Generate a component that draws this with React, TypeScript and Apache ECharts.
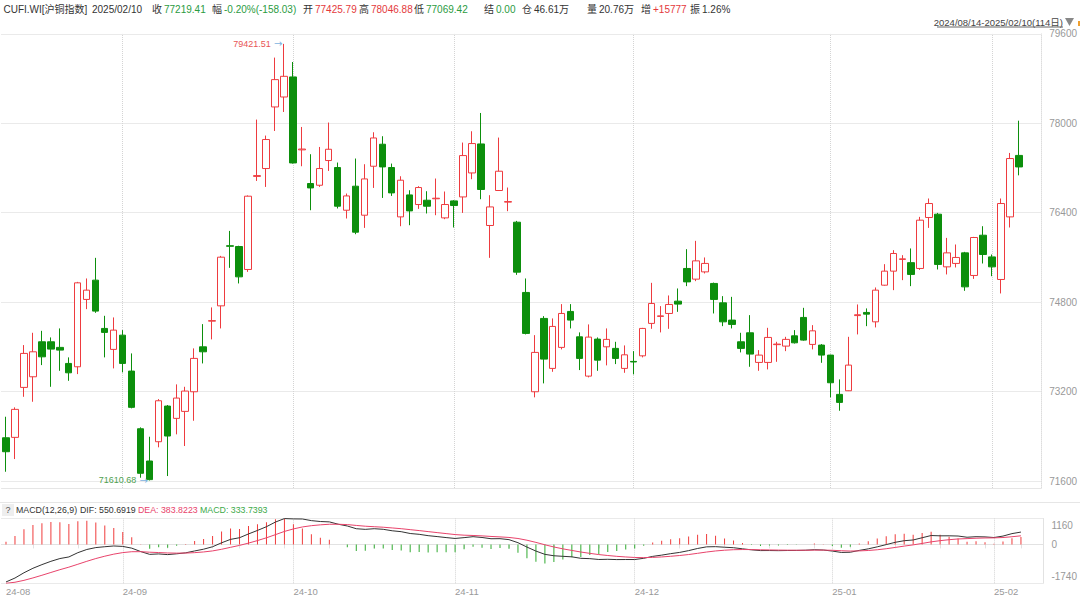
import React, { useEffect, useRef } from "react";
import * as echarts from "echarts";

const months = ["2024-08", "2024-09", "2024-10", "2024-11", "2024-12", "2025-01", "2025-02"];
const monthDays = [
  [14, 15, 16, 19, 20, 21, 22, 23, 26, 27, 28, 29, 30],
  [2, 3, 4, 5, 6, 9, 10, 11, 12, 13, 18, 19, 20, 23, 24, 25, 26, 27, 30],
  [8, 9, 10, 11, 14, 15, 16, 17, 18, 21, 22, 23, 24, 25, 28, 29, 30, 31],
  [1, 4, 5, 6, 7, 8, 11, 12, 13, 14, 15, 18, 19, 20, 21, 22, 25, 26, 27, 28],
  [2, 3, 4, 5, 6, 9, 10, 11, 12, 13, 16, 17, 18, 19, 20, 23, 24, 25, 26, 27, 30, 31],
  [2, 3, 6, 7, 8, 9, 10, 13, 14, 15, 16, 17, 20, 21, 22, 23, 24, 27],
  [5, 6, 7, 10],
];
const dates: string[] = months.flatMap((m, k) => monthDays[k].map((d) => `${m}-${String(d).padStart(2, "0")}`));

const opens = [
  72374, 72381, 73275, 73465, 74091, 74091, 73991, 73704, 73644, 74849,
  75194, 74330, 73955, 74210, 73567, 72535, 71958, 72303, 72941, 72721,
  72846, 73197, 74001, 74460, 74734, 75810, 75796, 75385, 77050, 77191,
  78293, 78471, 78830, 77525, 76923, 76892, 77334, 77209, 76445, 76875,
  76356, 77232, 77626, 77209, 76326, 76719, 76547, 76624, 76650, 76308,
  76612, 76683, 77112, 77631, 76172, 76798, 76590, 76231, 74974, 73197,
  74509, 73615, 73991, 74634, 74180, 73477, 74139, 74001, 73973, 73615,
  73740, 73840, 74420, 74545, 74598, 74818, 75403, 75212, 75342, 75135,
  74788, 74479, 74091, 74252, 73722, 73722, 74040, 74014, 74198, 74527,
  74044, 74032, 73853, 73150, 73215, 74560, 74616, 74448, 75104, 75355,
  75565, 75507, 75403, 76315, 76374, 75432, 75493, 75682, 75278, 75998,
  75610, 75206, 76326, 77425.79,
];
const closes = [
  72124, 72882, 73883, 73912, 73822, 73960, 73942, 73536, 75146, 75015,
  74640, 74259, 74300, 73704, 72918, 71738, 71625, 73036, 72405, 73084,
  73209, 73794, 73912, 74470, 75605, 75800, 75253, 76696, 77065, 77710,
  78782, 78841, 77291, 77540, 76844, 77191, 77536, 76517, 76701, 76052,
  77005, 77738, 77220, 76755, 76982, 76433, 76851, 76517, 76660, 76547,
  76529, 77423, 77638, 76816, 76504, 77143, 76600, 75337, 74241, 73901,
  73781, 74366, 74598, 74479, 73794, 74175, 73763, 74134, 73794, 73858,
  73730, 74330, 74777, 74555, 74759, 74765, 75163, 75539, 75493, 74849,
  74448, 74402, 73973, 73871, 73853, 74169, 74050, 74134, 74073, 74121,
  74287, 73853, 73358, 73007, 73674, 74575, 74586, 75015, 75355, 75671,
  75575, 75296, 76267, 76565, 75475, 75682, 75600, 75074, 75957, 75653,
  75432, 76565, 77370, 77219.41,
];
const lows = [
  71766, 71993, 73107, 73018, 73674, 73286, 73572, 73393, 73513, 74675,
  74609, 73812, 73615, 73544, 72900, 71659, 71610.68, 72203, 71689, 72435,
  72226, 72678, 73704, 74134, 74330, 75414, 75135, 75342, 76969, 76862,
  77863, 78203, 77280, 77232, 76445, 76862, 77148, 76476, 76297, 76016,
  76129, 76844, 76665, 76701, 76159, 76177, 76469, 76387, 76356, 76285,
  76136, 76397, 77000, 76642, 75593, 76790, 76428, 75289, 74223, 73097,
  73347, 73554, 73955, 74330, 73585, 73454, 73572, 73669, 73692, 73536,
  73508, 73812, 74323, 74259, 74323, 74627, 75087, 75176, 75314, 74598,
  74371, 74330, 73901, 73644, 73572, 73597, 73733, 73924, 74060, 74110,
  73955, 73715, 73097, 72857, 73210, 74223, 74371, 74348, 75095, 75015,
  75194, 75087, 75378, 76129, 75385, 75296, 75421, 75003, 75217, 75492,
  75265, 74956, 76136, 77069.42,
];
const highs = [
  72750, 72918, 74032, 74252, 74287, 74169, 74330, 73812, 75163, 75224,
  75593, 74556, 74527, 74300, 73883, 72560, 72392, 73066, 72960, 73329,
  73286, 73973, 74407, 74706, 75628, 76075, 75810, 76710, 78067, 77781,
  79176, 79421.51, 79097, 77935, 77447, 77577, 78014, 77298, 76744, 77370,
  77268, 77840, 77769, 77280, 77053, 76803, 76875, 76785, 77012, 76780,
  76625, 77656, 77858, 78185, 76714, 77745, 76851, 76254, 75224, 74210,
  74550, 74509, 74765, 74765, 74259, 74402, 74169, 74330, 74091, 74026,
  73924, 74340, 75146, 74729, 74920, 75045, 75748, 75897, 75600, 75150,
  74908, 74895, 74252, 74568, 73942, 74341, 74091, 74180, 74300, 74699,
  74389, 74050, 73860, 73418, 74180, 74759, 74688, 75063, 75480, 75730,
  75641, 75761, 76326, 76655, 76397, 75950, 75832, 75700, 75968, 76159,
  75653, 76655, 77470, 78046.88,
];

const priceTicks = [71600, 73200, 74800, 76400, 78000, 79600];
const macdTicks = [-1740, 0, 1160];
// EMA12, EMA26 and DEA on the first day (the indicator's history before the window)
const macdSeed = [72230, 73910, -1740];

const FONT = "'Liberation Sans', 'Noto Sans CJK SC', sans-serif";
const RED = "#ee3b3f";
const GREEN = "#0c8f0c";
const HRED = "#e4393c";
const HGREEN = "#2b9b3f";

export default function App() {
  const ref = useRef<HTMLDivElement>(null);
  useEffect(() => {
    if (!ref.current) return;
    const chart = echarts.init(ref.current, null, { renderer: "svg" });

    const dif: number[] = [];
    const dea: number[] = [];
    const hist: number[] = [];
    let e12 = macdSeed[0];
    let e26 = macdSeed[1];
    let d = macdSeed[2];
    closes.forEach((c, i) => {
      if (i > 0) {
        e12 += ((c - e12) * 2) / 13;
        e26 += ((c - e26) * 2) / 27;
      }
      const df = e12 - e26;
      if (i > 0) d += (df - d) * 0.2;
      dif.push(df);
      dea.push(d);
      hist.push(2 * (df - d));
    });

    const cats = [...dates, "pad-1", "pad-2"];
    const monthStarts = new Set<number>();
    const weekStarts = new Set<number>();
    const wk = (s: string) => Math.floor((Date.parse(s) / 86400000 + 3) / 7);
    dates.forEach((s, i) => {
      if (i === 0 || s.slice(0, 7) !== dates[i - 1].slice(0, 7)) monthStarts.add(i);
      if (i > 0 && wk(s) !== wk(dates[i - 1])) weekStarts.add(i);
    });
    const monthLines = [...monthStarts].filter((i) => i > 0).map((i) => ({ xAxis: dates[i] }));
    const monthMarkLine = {
      silent: true,
      z: 0,
      symbol: ["none", "none"],
      label: { show: false },
      lineStyle: { color: "#d4d4d4", type: "dotted", width: 1 },
      data: monthLines,
    };

    const hiIdx = highs.indexOf(Math.max(...highs));
    const loIdx = lows.indexOf(Math.min(...lows));

    const mainGrid = { left: 1.5, top: 33.9, width: 1041.9, height: 454.1 };
    const macdGrid = { left: 1.5, top: 518.5, width: 1041.9, height: 64.8 };

    const txt = (x: number, y: number, text: string, fill: string, size = 10, extra: any = {}) => ({
      type: "text",
      x,
      y,
      silent: true,
      style: { text, fill, fontSize: size, fontFamily: FONT, verticalAlign: "middle", ...extra },
    });

    const header = [
      txt(3.5, 9, "CUFI.WI[沪铜指数]", "#333"),
      txt(92, 9, "2025/02/10", "#333"),
      txt(152, 9, "收", "#333"),
      txt(164, 9, "77219.41", HGREEN),
      txt(212, 9, "幅", "#333"),
      txt(224, 9, "-0.20%(-158.03)", HGREEN),
      txt(303, 9, "开", "#333"),
      txt(315, 9, "77425.79", HRED),
      txt(359, 9, "高", "#333"),
      txt(371, 9, "78046.88", HRED),
      txt(414, 9, "低", "#333"),
      txt(426, 9, "77069.42", HGREEN),
      txt(484, 9, "结", "#333"),
      txt(496, 9, "0.00", HGREEN),
      txt(522, 9, "仓", "#333"),
      txt(534, 9, "46.61万", "#333"),
      txt(587, 9, "量", "#333"),
      txt(599, 9, "20.76万", "#333"),
      txt(641, 9, "增", "#333"),
      txt(653, 9, "+15777", HRED),
      txt(690, 9, "振", "#333"),
      txt(702, 9, "1.26%", "#333"),
      txt(1063, 22, "2024/08/14-2025/02/10(114日)", "#444", 9.5, { align: "right" }),
      {
        type: "line",
        silent: true,
        shape: { x1: 937, y1: 27, x2: 1063, y2: 27 },
        style: { stroke: "#666", lineWidth: 1 },
      },
      {
        type: "polygon",
        silent: true,
        shape: { points: [[1065, 18], [1074, 18], [1069.5, 26]] },
        style: { fill: "#888" },
      },
      { type: "rect", silent: true, shape: { x: 1078, y: 21, width: 2, height: 5 }, style: { fill: "#f0a030" } },
      {
        type: "line",
        silent: true,
        shape: { x1: 0, y1: 502.5, x2: 1080, y2: 502.5 },
        style: { stroke: "#e6e6e6", lineWidth: 1 },
      },
      { type: "rect", silent: true, shape: { x: 2, y: 504, width: 12, height: 12 }, style: { fill: "#eeeeee" } },
      txt(8, 510, "?", "#555", 9, { align: "center" }),
      txt(16, 510, "MACD(12,26,9)", "#333", 8.8),
      txt(80, 510, "DIF: 550.6919", "#333", 8.8),
      txt(138, 510, "DEA: 383.8223", "#e8436b", 8.8),
      txt(200, 510, "MACD: 333.7393", "#3daa4a", 8.8),
    ];

    const option: any = {
      animation: false,
      backgroundColor: "#fff",
      textStyle: { fontFamily: FONT },
      grid: [mainGrid, macdGrid],
      xAxis: [
        {
          type: "category",
          gridIndex: 0,
          data: cats,
          boundaryGap: true,
          axisLine: { show: true, lineStyle: { color: "#e6e6e6" } },
          axisTick: { show: false },
          axisLabel: { show: false },
          splitLine: { show: false },
        },
        {
          type: "category",
          gridIndex: 1,
          data: cats,
          boundaryGap: true,
          axisLine: { show: true, lineStyle: { color: "#e2e2e2" } },
          axisTick: {
            show: true,
            alignWithLabel: true,
            interval: (i: number) => weekStarts.has(i),
            length: 4,
            lineStyle: { color: "#e2e2e2" },
          },
          axisLabel: {
            interval: (i: number) => monthStarts.has(i),
            formatter: (v: string) => v.slice(2, 7),
            align: "left",
            color: "#999",
            fontSize: 9.5,
            margin: 3,
            fontFamily: FONT,
          },
          splitLine: { show: false },
        },
      ],
      yAxis: [
        {
          type: "value",
          gridIndex: 0,
          position: "right",
          min: 71475,
          max: 79600,
          axisLine: { show: true, lineStyle: { color: "#dddddd", type: "dotted" } },
          axisTick: { show: false, customValues: priceTicks },
          axisLabel: {
            customValues: priceTicks,
            formatter: (v: number) => String(v),
            color: "#999",
            fontSize: 10,
            margin: 8,
            fontFamily: FONT,
          },
          splitLine: { show: true, lineStyle: { color: "#d4d4d4", type: "dotted" } },
        },
        {
          type: "value",
          gridIndex: 1,
          position: "right",
          min: macdTicks[0],
          max: macdTicks[2],
          axisLine: { show: true, lineStyle: { color: "#e2e2e2" } },
          axisTick: { show: false, customValues: macdTicks },
          axisLabel: {
            customValues: macdTicks,
            color: "#999",
            fontSize: 10,
            margin: 8,
            fontFamily: FONT,
            formatter: (v: number) =>
              v === macdTicks[2] ? `{t|${v}}` : v === macdTicks[0] ? `{b|${v}}` : `${v}`,
            rich: {
              t: { padding: [13, 0, 0, 0], color: "#999", fontSize: 10, fontFamily: FONT },
              b: { padding: [0, 0, 14, 0], color: "#999", fontSize: 10, fontFamily: FONT },
            },
          },
          splitLine: { show: true, lineStyle: { color: "#d4d4d4", type: "dotted" } },
        },
      ],
      series: [
        {
          type: "line",
          xAxisIndex: 0,
          yAxisIndex: 0,
          data: [],
          z: 0,
          silent: true,
          markLine: monthMarkLine,
        },
        {
          type: "line",
          xAxisIndex: 1,
          yAxisIndex: 1,
          data: [],
          z: 0,
          silent: true,
          markLine: monthMarkLine,
        },
        {
          type: "candlestick",
          xAxisIndex: 0,
          yAxisIndex: 0,
          barWidth: 7,
          z: 3,
          data: opens.map((o, i) => [o, closes[i], lows[i], highs[i]]),
          itemStyle: { color: "#ffffff", color0: GREEN, borderColor: RED, borderColor0: GREEN, borderWidth: 1 },
          markPoint: {
            silent: true,
            symbol: "rect",
            symbolSize: 1,
            itemStyle: { color: "rgba(0,0,0,0)" },
            data: [
              {
                coord: [dates[hiIdx], highs[hiIdx]],
                label: {
                  show: true,
                  position: "left",
                  distance: 1,
                  formatter: `{v|${highs[hiIdx].toFixed(2)}}{a| →}`,
                  rich: {
                    v: { color: "#e85454", fontSize: 9, fontFamily: FONT },
                    a: { color: "#7db3e0", fontSize: 10, fontFamily: "'DejaVu Sans', sans-serif" },
                  },
                },
              },
              {
                coord: [dates[loIdx], lows[loIdx]],
                label: {
                  show: true,
                  position: "left",
                  distance: 1,
                  formatter: `{v|${lows[loIdx].toFixed(2)}}{a| →}`,
                  rich: {
                    v: { color: "#4f9f4f", fontSize: 9, fontFamily: FONT },
                    a: { color: "#7db3e0", fontSize: 10, fontFamily: "'DejaVu Sans', sans-serif" },
                  },
                },
              },
            ],
          },
        },
        {
          type: "bar",
          xAxisIndex: 1,
          yAxisIndex: 1,
          barWidth: 1,
          z: 3,
          data: hist.map((v) => ({ value: v, itemStyle: { color: v >= 0 ? "#f03c3c" : "#2faa2f" } })),
        },
        {
          type: "line",
          xAxisIndex: 1,
          yAxisIndex: 1,
          data: dif,
          showSymbol: false,
          lineStyle: { color: "#333", width: 1 },
          z: 4,
        },
        {
          type: "line",
          xAxisIndex: 1,
          yAxisIndex: 1,
          data: dea,
          showSymbol: false,
          lineStyle: { color: "#e8436b", width: 1 },
          z: 4,
        },
      ],
      graphic: header,
    };
    chart.setOption(option);
    return () => chart.dispose();
  }, []);
  return <div ref={ref} style={{ position: "fixed", left: 0, top: 0, width: 1080, height: 600 }} />;
}
